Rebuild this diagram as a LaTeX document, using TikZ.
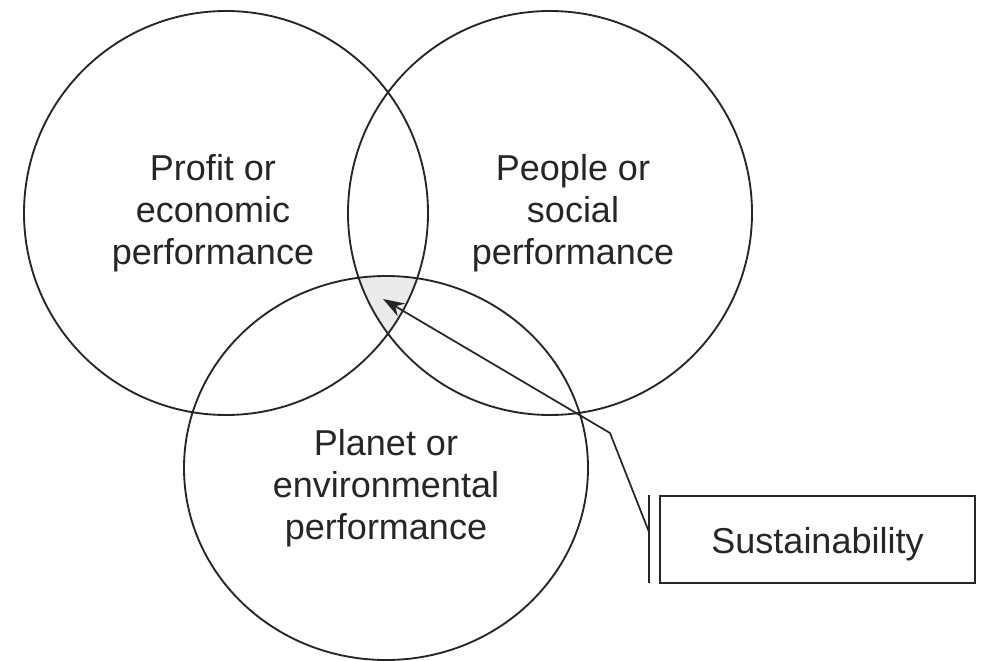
\documentclass[tikz,border=0pt]{standalone}
\usepackage{fontspec}
\setmainfont{Liberation Sans}
\usetikzlibrary{arrows.meta}
\begin{document}
\begin{tikzpicture}[x=0.75pt,y=-0.75pt,
  ring/.style={draw=black!85,line width=1.4pt},
  lbl/.style={align=center,text=black!85,font=\fontsize{27}{31.5}\selectfont},
  boxlbl/.style={draw=black!85,line width=1.4pt,text=black!85,font=\fontsize{27}{31.5}\selectfont,
    minimum width=236.25pt,minimum height=65.25pt,inner sep=0pt,text height=20.25pt,text depth=0pt},
  conn/.style={draw=black!85,line width=1.3pt}]
\useasboundingbox (0,0) rectangle (984,660);
% shaded triple intersection
\begin{scope}
  \clip (226,213) circle [radius=202];
  \clip (550,213) circle [radius=202];
  \fill[black!8] (386,468) ellipse [x radius=202, y radius=192];
\end{scope}
\draw[ring] (226,213) circle [radius=202];
\draw[ring] (550,213) circle [radius=202];
\draw[ring] (386,468) ellipse [x radius=202, y radius=192];
\node[lbl] (profit) at (213,213) {Profit or\\economic\\performance};
\node[lbl] (people) at (573,213) {People or\\social\\performance};
\node[lbl] (planet) at (386,488) {Planet or\\environmental\\performance};
\node[boxlbl] (sus) at (817.5,539.5) {Sustainability};
\coordinate (brtop) at (649,495);
\coordinate (brbot) at (649,583);
\coordinate (brk) at (649,532);
\coordinate (bend) at (610,433);
\coordinate (tip) at (383,299);
\draw[conn] (brtop) -- (brbot);
\draw[conn,-{Stealth[length=16pt,width=11pt]}] (brk) -- (bend) -- (tip);
\end{tikzpicture}
\end{document}
